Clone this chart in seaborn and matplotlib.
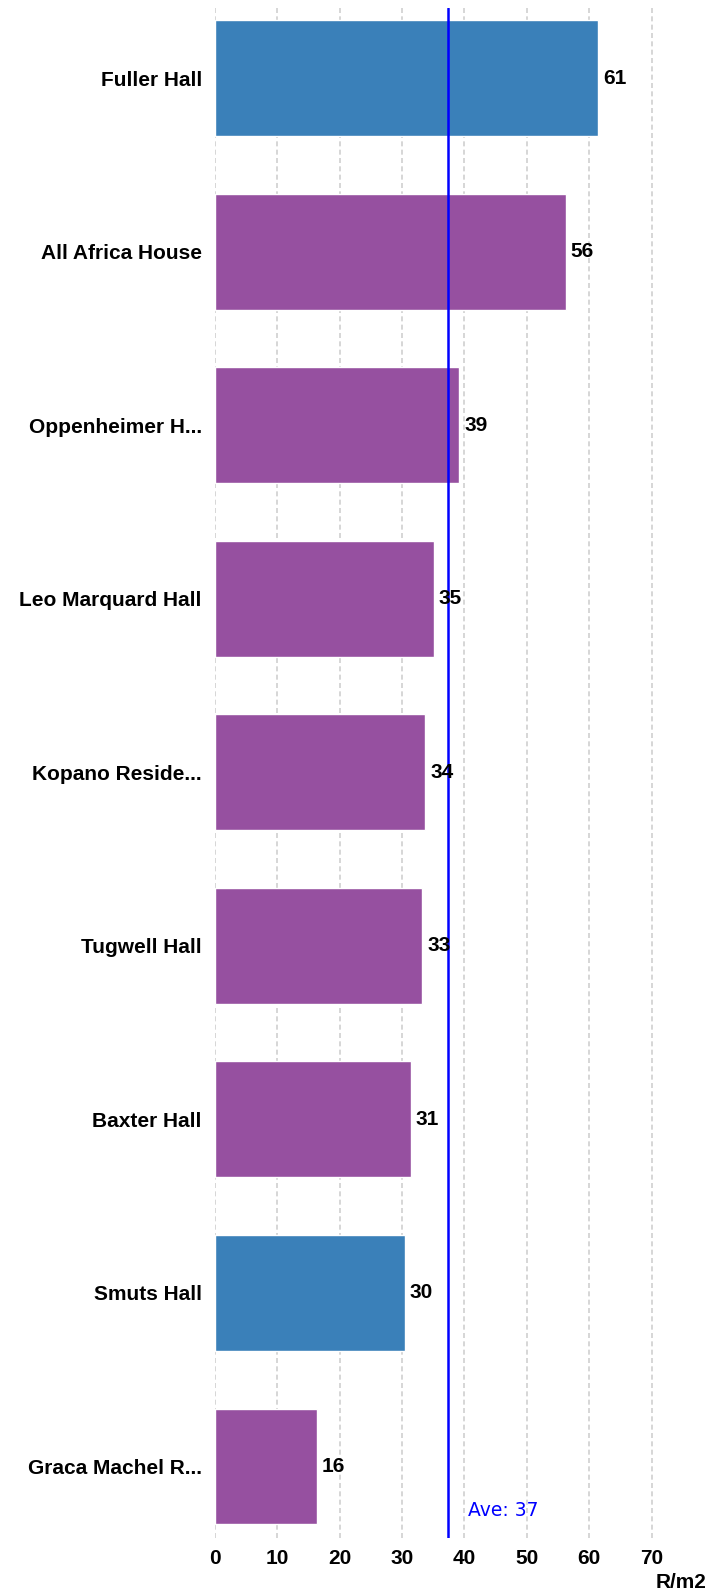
import pandas as pd
import matplotlib.pyplot as plt
import seaborn as sns

# data
halls = ["Fuller Hall", "All Africa House", "Oppenheimer H...", "Leo Marquard Hall",
         "Kopano Reside...", "Tugwell Hall", "Baxter Hall", "Smuts Hall", "Graca Machel R..."]
rate = [61.4, 56.2, 39.2, 35.1, 33.7, 33.2, 31.4, 30.4, 16.3]
group = ["blue", "purple", "purple", "purple", "purple", "purple", "purple", "blue", "purple"]
ticks = [0, 10, 20, 30, 40, 50, 60, 70]

colours = {"blue": "#3a80b9", "purple": "#9650a0"}
ave = sum(rate) / len(rate)

df = pd.DataFrame({"hall": halls, "rate": rate, "group": group})

sns.set_style("white")
plt.rcParams["font.family"] = ["Liberation Sans", "DejaVu Sans"]
plt.rcParams["text.color"] = "black"
plt.rcParams["xtick.labelcolor"] = "black"
plt.rcParams["ytick.labelcolor"] = "black"

fig = plt.figure(figsize=(7.09, 15.95), dpi=100)
ax = fig.add_axes([0.3032, 0.0357, 0.6862, 0.9593])

sns.barplot(data=df, x="rate", y="hall", hue="hall",
            palette=[colours[g] for g in group], width=0.667, saturation=1,
            legend=False, ax=ax, zorder=2)

ax.set_xlim(0, 78)
ax.set_ylim(8.413, -0.405)
ax.set_xticks(ticks)
ax.xaxis.grid(True, color="#d0d0d0", linestyle=(0, (3, 2)), lw=1.2, zorder=0)
ax.set_axisbelow(True)
for s in ax.spines.values():
    s.set_visible(False)

ax.tick_params(axis="y", length=0, pad=9.5, labelsize=15)
ax.tick_params(axis="x", length=3, color="#f5a040", pad=5, labelsize=15)
for lbl in ax.get_yticklabels() + ax.get_xticklabels():
    lbl.set_fontweight("bold")
ax.set_xlabel("")
ax.set_ylabel("")

# value labels
for i, v in enumerate(rate):
    ax.text(v + 0.8, i, f"{round(v)}", va="center", ha="left",
            fontsize=15, fontweight="bold", zorder=4)

# average line
ax.axvline(ave, color="#0000ff", lw=1.8, zorder=3)
ax.text(ave + 3.2, 0.018, f"Ave: {round(ave)}", color="#0000ff", fontsize=13.5,
        family=["DejaVu Sans"], va="center", ha="left",
        transform=ax.get_xaxis_transform())

fig.text(0.996, 0.008, "R/m2", ha="right", va="center", fontsize=15, fontweight="bold")

fig.savefig("out.png", dpi=100)
